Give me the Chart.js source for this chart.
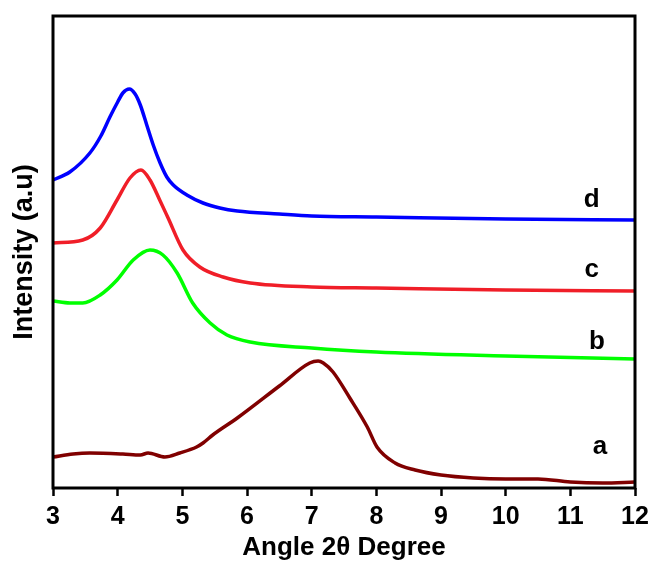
<!DOCTYPE html>
<html>
<head>
<meta charset="utf-8">
<script src="https://cdn.jsdelivr.net/npm/chart.js@4/dist/chart.umd.min.js"></script>
<style>
  body { margin: 0; background: #fff; }
  #wrap { width: 650px; height: 561px; }
</style>
</head>
<body>
<div id="wrap"><canvas id="grafico" width="650" height="561"></canvas></div>
<script>
// curve d (blue)
const angleD = [3.0, 3.26, 3.57, 3.74, 3.88, 4.0, 4.08, 4.18, 4.27, 4.35, 4.45, 4.55, 4.65, 4.76, 4.86, 5.07, 5.32, 5.58, 5.85, 6.5, 7.0, 8.0, 10.0, 12.0];
const intensityD = [308, 316, 335, 352, 371, 386, 395, 399, 394, 383, 363, 343, 326, 311, 303, 293, 285, 280, 277, 274, 272, 271, 269, 268];

// curve c (red)
const angleC = [3.0, 3.46, 3.73, 3.99, 4.19, 4.36, 4.5, 4.65, 4.78, 5.01, 5.27, 5.63, 6.05, 7.0, 8.0, 10.0, 12.0];
const intensityC = [245, 248, 260, 288, 310, 318, 308, 288, 270, 238, 221, 211, 205, 201, 200, 198, 197];

// curve b (green)
const angleB = [3.0, 3.26, 3.46, 3.73, 3.99, 4.24, 4.5, 4.7, 4.92, 5.16, 5.43, 5.69, 6.05, 7.0, 8.0, 10.0, 12.0];
const intensityB = [187, 185, 185, 193, 208, 228, 238, 233, 215, 185, 165, 153, 146, 140, 136, 132, 129];

// curve a (dark red)
const angleA = [3.0, 3.31, 3.57, 4.08, 4.35, 4.47, 4.73, 4.96, 5.22, 5.32, 5.47, 5.85, 6.5, 6.97, 7.1, 7.18, 7.33, 7.59, 7.86, 8.01, 8.29, 8.6, 9.0, 9.5, 10.0, 10.5, 11.0, 11.5, 12.0];
const intensityA = [31, 34, 35, 34, 33, 35, 31, 35, 41, 45, 53, 70, 102, 125, 127, 125, 116, 90, 61, 41, 25, 18, 13, 10, 9, 9, 6, 5, 6];

const xTicks = [3, 4, 5, 6, 7, 8, 9, 10, 11, 12];

// curve letters: [text, angle, intensity]
const curveLabels = [
  ["d", 11.33, 288],
  ["c", 11.33, 218],
  ["b", 11.41, 146],
  ["a", 11.46, 41],
];

const fonte = "'Liberation Sans', Arial, sans-serif";

function pontos(xs, ys) {
  return xs.map((x, i) => ({ x: x, y: ys[i] }));
}

function serie(xs, ys, cor) {
  return {
    data: pontos(xs, ys),
    borderColor: cor,
    borderWidth: 3.5,
    pointRadius: 0,
    fill: false,
    cubicInterpolationMode: "monotone",
  };
}

const molduraPlugin = {
  id: "moldura",
  afterDraw(chart) {
    const { ctx, chartArea, scales } = chart;
    ctx.save();
    ctx.strokeStyle = "#000";
    ctx.lineWidth = 3;
    ctx.strokeRect(chartArea.left, chartArea.top, chartArea.right - chartArea.left, chartArea.bottom - chartArea.top);

    ctx.fillStyle = "#000";
    ctx.font = "bold 26px " + fonte;
    ctx.textAlign = "center";
    ctx.textBaseline = "middle";
    curveLabels.forEach(([txt, x, y]) => {
      ctx.fillText(txt, scales.x.getPixelForValue(x), scales.y.getPixelForValue(y));
    });
    ctx.restore();
  },
};

new Chart(document.getElementById("grafico"), {
  type: "line",
  data: {
    datasets: [
      serie(angleA, intensityA, "#800000"),
      serie(angleB, intensityB, "#00FF00"),
      serie(angleC, intensityC, "#F01E28"),
      serie(angleD, intensityD, "#0000FF"),
    ],
  },
  options: {
    responsive: false,
    animation: false,
    layout: { padding: { left: 0, right: 15, top: 16, bottom: 0 } },
    plugins: { legend: { display: false }, tooltip: { enabled: false } },
    scales: {
      x: {
        type: "linear",
        min: 3,
        max: 12,
        afterBuildTicks: (axis) => {
          axis.ticks = xTicks.map((v) => ({ value: v }));
        },
        afterFit: (axis) => {
          axis.height = 73;
          axis.paddingLeft = 0;
          axis.paddingRight = 0;
        },
        grid: {
          drawOnChartArea: false,
          drawTicks: true,
          tickLength: 8,
          tickWidth: 2.5,
          tickColor: "#000",
        },
        border: { display: false },
        ticks: {
          color: "#000",
          padding: 6,
          font: { family: fonte, size: 25, weight: "bold" },
        },
        title: {
          display: true,
          text: "Angle 2θ Degree",
          color: "#000",
          padding: { top: 0, bottom: 0 },
          font: { family: fonte, size: 26, weight: "bold", lineHeight: 1 },
        },
      },
      y: {
        min: 0,
        max: 472,
        afterFit: (axis) => {
          axis.width = 53;
        },
        grid: { display: false, drawTicks: false },
        border: { display: false },
        ticks: { display: false },
        title: {
          display: true,
          text: "Intensity (a.u)",
          color: "#000",
          padding: { top: 11.5, bottom: 0 },
          font: { family: fonte, size: 27, weight: "bold", lineHeight: 1 },
        },
      },
    },
  },
  plugins: [molduraPlugin],
});
</script>
</body>
</html>
